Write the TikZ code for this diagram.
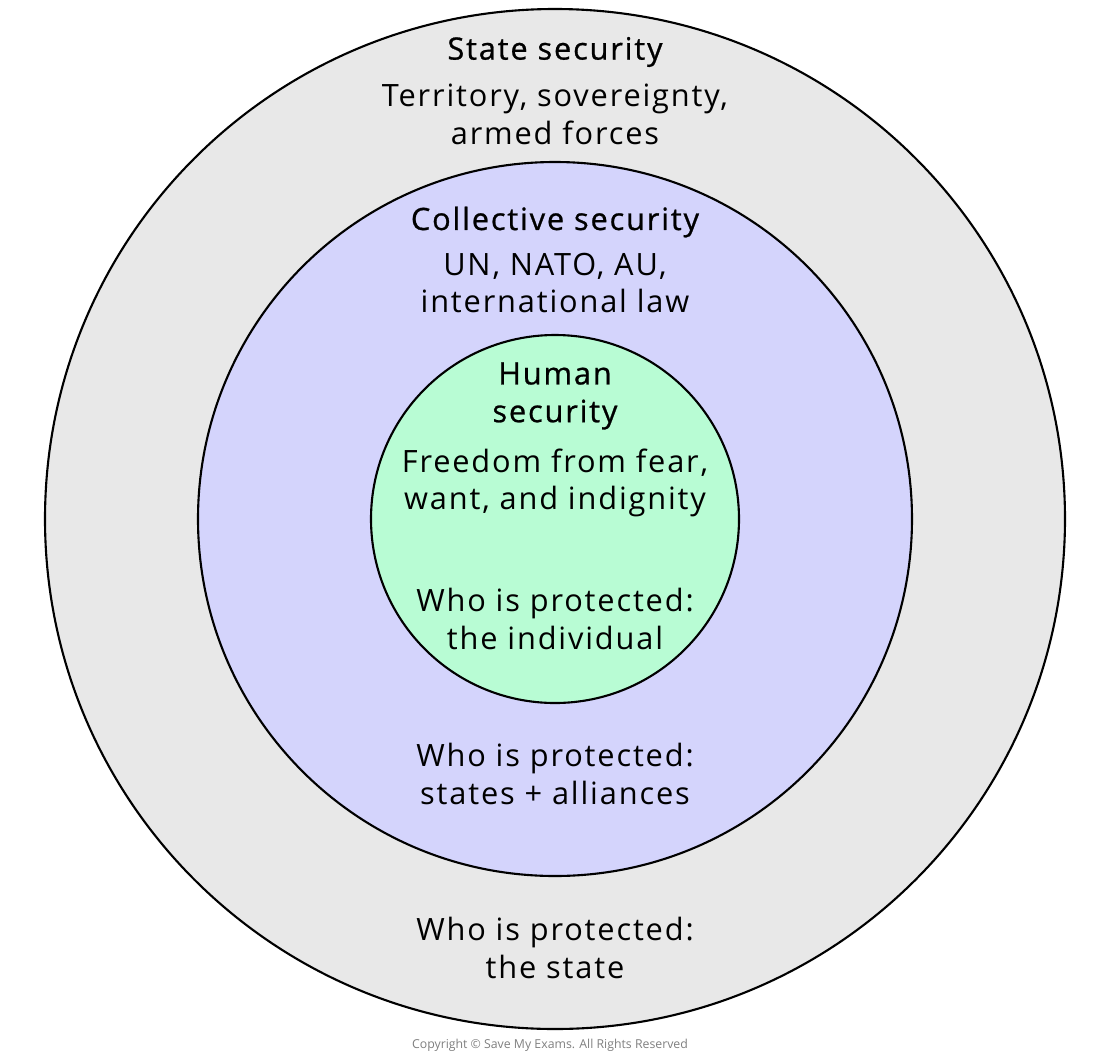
\documentclass[tikz,border=0pt]{standalone}
\usepackage{fontspec}
\setmainfont{Open Sans}[LetterSpace=6]
\newfontfamily\ttlfont{Open Sans}[LetterSpace=6,FakeBold=0.8]
\newfontfamily\cpfont{Open Sans}
\definecolor{outerc}{HTML}{E8E8E8}
\definecolor{midc}{HTML}{D4D4FC}
\definecolor{innc}{HTML}{B8FCD4}
\begin{document}
\begin{tikzpicture}[x=0.02cm,y=-0.02cm,
  ring/.style={draw=black,line width=1.2pt},
  txt/.style={align=center,font=\fontsize{17.5}{21.5}\selectfont,inner sep=0pt},
  ttl/.style={txt,font=\fontsize{17.5}{21.5}\selectfont\ttlfont}]
\useasboundingbox (0,0) rectangle (1100,1059);
\fill[white] (0,0) rectangle (1100,1059);
\draw[ring,fill=outerc] (555,519) circle (510);
\draw[ring,fill=midc] (555,519) circle (357);
\draw[ring,fill=innc] (555,519) circle (184);
\node[ttl] (s1) at (555,52) {State security};
\node[txt] (s2) at (555,114) {Territory, sovereignty,\\armed forces};
\node[ttl] (c1) at (555,222) {Collective security};
\node[txt] (c2) at (555,283) {UN, NATO, AU,\\international law};
\node[ttl] (h1) at (555,396) {Human\\security};
\node[txt] (h2) at (555,483) {Freedom from fear,\\want, and indignity};
\node[txt] (h3) at (555,619) {Who is protected:\\the individual};
\node[txt] (c3) at (555,774) {Who is protected:\\states + alliances};
\node[txt] (s3) at (555,948) {Who is protected:\\the state};
\node[inner sep=0pt,text=gray,font=\fontsize{7}{8}\selectfont\cpfont] (cp) at (550,1045) {Copyright © Save My Exams. All Rights Reserved};
\end{tikzpicture}
\end{document}
